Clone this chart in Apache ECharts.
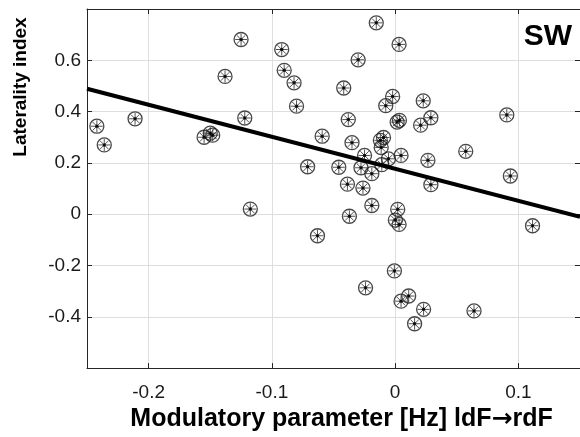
<!DOCTYPE html>
<html>
<head>
<meta charset="utf-8">
<script src="https://cdn.jsdelivr.net/npm/echarts@6/dist/echarts.min.js"></script>
<style>
html,body{margin:0;padding:0;background:#fff;}
#chart{width:580px;height:437px;}
</style>
</head>
<body>
<div id="chart"></div>
<script>
// Modulatory parameter [Hz] (x) and laterality index (y)
const xVals = [-0.242,-0.236,-0.211,-0.155,-0.150,-0.148,-0.138,-0.125,-0.122,-0.1175,
  -0.092,-0.090,-0.082,-0.080,-0.071,-0.063,-0.0592,-0.0457,-0.0417,-0.038,
  -0.0387,-0.0371,-0.035,-0.030,-0.0277,-0.0261,-0.0248,-0.024,-0.0189,-0.0189,
  -0.0153,-0.012,-0.0113,-0.0108,-0.0094,-0.0076,-0.0054,-0.002,-0.0006,0.0002,
  0.0016,0.0021,0.0032,0.0032,0.0035,0.0048,0.0048,0.011,0.0158,0.0207,
  0.0228,0.0231,0.0266,0.029,0.029,0.0573,0.064,0.0906,0.0935,0.1115];
const yVals = [0.343,0.270,0.372,0.300,0.316,0.308,0.537,0.681,0.375,0.020,
  0.642,0.561,0.512,0.421,0.185,-0.084,0.304,0.183,0.492,0.369,
  0.117,-0.008,0.279,0.602,0.181,0.102,0.229,-0.287,0.158,0.034,
  0.746,0.288,0.260,0.193,0.299,0.423,0.216,0.459,-0.221,-0.023,
  0.359,0.019,0.662,-0.040,0.366,0.229,-0.339,-0.319,-0.427,0.347,
  0.442,-0.371,0.210,0.376,0.115,0.245,-0.377,0.387,0.149,-0.045];
// Regression line end points
const fitX = [-0.25, 0.15];
const fitY = [0.489, -0.010];
const xTitle = 'Modulatory parameter [Hz] ldF{a|\u2192}rdF';
const yTitle = 'Laterality index';
const panelLabel = 'SW';

const pts = xVals.map((x, i) => [x, yVals[i]]);
const fitPts = fitX.map((x, i) => [x, fitY[i]]);

const FONT = 'Liberation Sans, Arial, Helvetica, sans-serif';
const AX = '#262626';
const GRID = '#dedede';

const chart = echarts.init(document.getElementById('chart'), null, {renderer: 'canvas'});
const axisCommon = {
  axisLine: {show: true, onZero: false, lineStyle: {color: AX, width: 1}},
  axisTick: {show: true, inside: true, length: 5, lineStyle: {color: AX, width: 1}},
};
chart.setOption({
  animation: false,
  backgroundColor: '#fff',
  grid: {left: 87, top: 9, right: -2, bottom: 63, containLabel: false},
  xAxis: [
    Object.assign({
      type: 'value', min: -0.25, max: 0.15, splitNumber: 5, position: 'bottom',
      name: xTitle, nameLocation: 'middle', nameGap: 38,
      nameTextStyle: {fontFamily: FONT, fontSize: 25, fontWeight: 'bold', color: '#000', padding: [0, 0, 0, 16],
        rich: {a: {fontFamily: 'DejaVu Sans', fontSize: 25, fontWeight: 'bold', color: '#000'}}},
      axisLabel: {showMinLabel: false, showMaxLabel: false, margin: 15, fontSize: 19, fontFamily: FONT, color: '#1a1a1a'},
      splitLine: {show: true, lineStyle: {color: GRID, width: 1}}
    }, axisCommon),
    Object.assign({
      type: 'value', min: -0.25, max: 0.15, splitNumber: 5, position: 'top',
      axisLabel: {show: false}, splitLine: {show: false}
    }, axisCommon)
  ],
  yAxis: [
    Object.assign({
      type: 'value', min: -0.6, max: 0.8, interval: 0.2, position: 'left',
      axisLabel: {showMinLabel: false, showMaxLabel: false, margin: 6, fontSize: 19, fontFamily: FONT, color: '#1a1a1a'},
      splitLine: {show: true, lineStyle: {color: GRID, width: 1}}
    }, axisCommon),
    Object.assign({
      type: 'value', min: -0.6, max: 0.8, interval: 0.2, position: 'right',
      axisLabel: {show: false}, splitLine: {show: false}
    }, axisCommon)
  ],
  graphic: [
    {type: 'text', x: 21, y: 87, rotation: Math.PI / 2,
     style: {text: yTitle, fontFamily: FONT, fontSize: 19, fontWeight: 'bold', fill: '#000', align: 'center', verticalAlign: 'middle'}},
    {type: 'text', x: 572, y: 37,
     style: {text: panelLabel, fontFamily: FONT, fontSize: 30, fontWeight: 'bold', fill: '#000', align: 'right', verticalAlign: 'middle'}}
  ],
  series: [
    {type: 'scatter', data: pts, symbol: 'circle', symbolSize: 14, z: 2,
     itemStyle: {color: 'rgba(0,0,0,0)', borderColor: '#1a1a1a', borderWidth: 1.3}},
    {type: 'scatter', data: pts, symbol: 'path://M-10,0L10,0M0,-10L0,10M-7.07,-7.07L7.07,7.07M-7.07,7.07L7.07,-7.07', symbolSize: 12, z: 3,
     itemStyle: {color: 'rgba(0,0,0,0)', borderColor: '#2a2a2a', borderWidth: 1}},
    {type: 'scatter', data: pts, symbol: 'circle', symbolSize: 3.5, z: 4,
     itemStyle: {color: '#000'}},
    {type: 'line', data: fitPts, symbol: 'none', z: 5,
     lineStyle: {color: '#000', width: 4}}
  ]
});
</script>
</body>
</html>
